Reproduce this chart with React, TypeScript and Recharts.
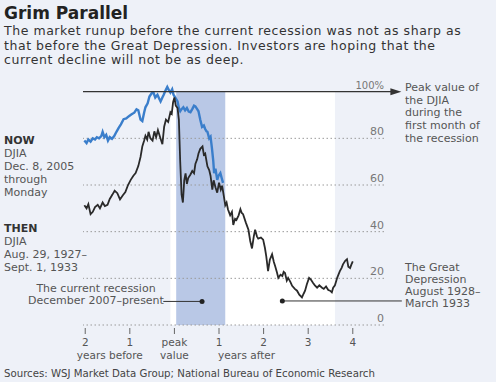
import {
  ComposedChart,
  Line,
  XAxis,
  YAxis,
  ReferenceArea,
  ReferenceLine,
  ReferenceDot,
} from 'recharts';

// years relative to the peak month, and % of that peak
const nowYears = [
  -2.02, -1.97, -1.93, -1.88, -1.83, -1.78, -1.74, -1.69, -1.64, -1.61, -1.57, -1.53, -1.49,
  -1.45, -1.4, -1.35, -1.3, -1.25, -1.2, -1.14, -1.08, -1.02, -0.96, -0.9, -0.85, -0.81, -0.76,
  -0.72, -0.68, -0.65, -0.6, -0.56, -0.51, -0.47, -0.43, -0.38, -0.34, -0.31, -0.27, -0.24, -0.2,
  -0.16, -0.12, -0.09, -0.05, -0.02, 0.02, 0.07, 0.1, 0.13, 0.16, 0.2, 0.24, 0.28, 0.32, 0.36,
  0.4, 0.44, 0.47, 0.51, 0.54, 0.58, 0.62, 0.66, 0.69, 0.72, 0.74, 0.78, 0.81, 0.84, 0.87, 0.89,
  0.92, 0.96, 0.99, 1.03, 1.06, 1.09,
];
const nowValues = [
  79.1, 78.0, 79.5, 78.6, 80.0, 79.5, 80.5, 80.0, 81.0, 82.8, 80.5, 81.5, 79.0, 80.5, 79.8, 81.0,
  82.8, 84.5, 86.0, 88.2, 88.5, 89.5, 90.3, 91.0, 92.4, 92.0, 88.0, 87.4, 91.0, 93.3, 95.0, 97.9,
  99.3, 99.6, 97.5, 98.7, 97.0, 95.8, 97.5, 98.7, 100.5, 102.0, 100.5, 99.6, 101.0, 98.7, 97.5,
  95.8, 93.0, 91.6, 92.5, 93.3, 92.0, 93.0, 91.5, 91.2, 92.5, 94.0, 93.7, 92.5, 91.6, 88.0, 84.9,
  85.5, 84.0, 83.0, 82.8, 80.0, 80.7, 76.0, 70.6, 65.1, 67.0, 62.2, 64.0, 65.1, 63.0, 60.9,
];

const thenYears = [
  -2.02, -1.97, -1.93, -1.88, -1.83, -1.78, -1.72, -1.67, -1.61, -1.56, -1.5, -1.45, -1.39, -1.34,
  -1.28, -1.22, -1.16, -1.1, -1.04, -0.98, -0.92, -0.87, -0.81, -0.76, -0.72, -0.68, -0.65, -0.61,
  -0.58, -0.54, -0.49, -0.45, -0.41, -0.37, -0.31, -0.27, -0.23, -0.19, -0.14, -0.09, -0.06, -0.03,
  0.0, 0.03, 0.07, 0.1, 0.13, 0.16, 0.19, 0.22, 0.25, 0.28, 0.31, 0.36, 0.4, 0.44, 0.47, 0.51, 0.54,
  0.58, 0.63, 0.66, 0.69, 0.74, 0.78, 0.81, 0.85, 0.88, 0.92, 0.96, 1.0, 1.04, 1.07, 1.11, 1.14,
  1.17, 1.2, 1.25, 1.29, 1.32, 1.36, 1.39, 1.44, 1.48, 1.51, 1.54, 1.6, 1.66, 1.7, 1.74, 1.78,
  1.81, 1.85, 1.88, 1.94, 1.99, 2.03, 2.06, 2.1, 2.14, 2.19, 2.23, 2.26, 2.3, 2.33, 2.38, 2.42,
  2.45, 2.48, 2.52, 2.55, 2.6, 2.64, 2.7, 2.75, 2.8, 2.86, 2.9, 2.93, 2.97, 3.02, 3.06, 3.11, 3.15,
  3.2, 3.25, 3.31, 3.35, 3.4, 3.45, 3.49, 3.53, 3.56, 3.6, 3.65, 3.71, 3.75, 3.78, 3.83, 3.87, 3.9,
  3.94, 3.97, 4.0,
];
const thenValues = [
  51.3, 50.0, 51.8, 47.5, 48.5, 50.5, 51.5, 50.0, 52.5, 51.0, 51.5, 54.0, 55.9, 57.6, 56.5, 53.8,
  55.5, 57.0, 60.0, 62.2, 64.0, 65.1, 68.1, 72.0, 76.5, 79.0, 81.1, 79.5, 82.8, 80.0, 79.0, 83.0,
  80.5, 83.5, 79.8, 77.5, 85.0, 88.0, 87.0, 91.2, 90.5, 95.5, 97.5, 94.0, 93.0, 88.0, 70.0, 56.0,
  52.5, 62.0, 65.0, 60.5, 63.0, 64.5, 66.0, 65.0, 69.0, 71.0, 73.5, 75.5, 76.5, 73.0, 73.5, 68.0,
  66.4, 64.0, 58.0, 62.0, 59.0, 56.7, 61.0, 58.0, 59.7, 55.0, 51.3, 52.5, 49.6, 47.0, 48.5, 42.9,
  45.5, 45.0, 47.0, 49.6, 48.0, 47.5, 44.0, 40.8, 36.0, 32.8, 38.0, 40.8, 38.0, 37.0, 37.5, 36.6,
  33.0, 29.4, 23.1, 28.0, 30.3, 27.0, 25.2, 22.5, 20.2, 21.5, 21.0, 22.8, 22.3, 19.0, 20.2, 18.5,
  16.8, 15.5, 14.7, 13.0, 11.8, 13.5, 14.7, 17.5, 20.2, 19.5, 18.0, 17.0, 16.0, 17.0, 16.0, 15.5,
  16.5, 15.0, 14.7, 14.0, 16.0, 17.0, 20.2, 23.1, 24.5, 26.0, 27.5, 28.2, 25.0, 24.4, 26.0, 27.3,
];

const xTicks = [-2, -1, 0, 1, 2, 3, 4];
const xTickLabels = ['2', '1', 'peak', '1', '2', '3', '4'];
const yTicks = [0, 20, 40, 60, 80, 100];
const yTickLabels = ['0', '20', '40', '60', '80', '100%'];

// shaded periods, in years from the peak
const depression = [-0.09, 3.6];
const recession = [0.04, 1.14];

const nowData = nowYears.map((t, i) => ({ t, v: nowValues[i] }));
const thenData = thenYears.map((t, i) => ({ t, v: thenValues[i] }));

const FONT = '"DejaVu Sans", Verdana, sans-serif';
const BG = '#eef1f8';

const XTick = (props: any) => {
  const { x, y, index } = props;
  const v = xTicks[index];
  return (
    <g fontFamily={FONT} fontSize={10.5} fill="#555">
      <line x1={x} x2={x} y1={y + 3} y2={y + 9} stroke="#666" strokeWidth={1} />
      <text x={x} y={y + 21} textAnchor="middle">
        {xTickLabels[index]}
      </text>
      {v === 0 && (
        <text x={x} y={y + 33.5} textAnchor="middle">
          value
        </text>
      )}
      {v === -1 && (
        <text x={x - 20} y={y + 33.5} textAnchor="middle">
          years before
        </text>
      )}
      {v === 1 && (
        <text x={x - 1} y={y + 33.5} textAnchor="start">
          years after
        </text>
      )}
    </g>
  );
};

const YTick = (props: any) => {
  const { x, y, index } = props;
  return (
    <text
      x={x}
      y={y - 3}
      textAnchor="end"
      fontFamily={FONT}
      fontSize={index === 5 ? 10 : 11}
      fill="#777"
    >
      {yTickLabels[index]}
    </text>
  );
};

const ArrowLine = (props: any) => {
  const { x1, y1, x2, y2 } = props;
  return (
    <g>
      <line x1={x1} y1={y1} x2={x2 - 8} y2={y2} stroke="#333" strokeWidth={1.2} />
      <polygon
        points={`${x2},${y2} ${x2 - 11},${y2 - 3.5} ${x2 - 11},${y2 + 3.5}`}
        fill="#333"
      />
    </g>
  );
};

const txt = (extra: React.CSSProperties): React.CSSProperties => ({
  position: 'absolute',
  fontFamily: FONT,
  margin: 0,
  whiteSpace: 'nowrap',
  ...extra,
});

export default function App() {
  return (
    <div
      style={{
        position: 'absolute',
        left: 0,
        top: 0,
        width: 496,
        height: 382,
        background: BG,
        overflow: 'hidden',
      }}
    >
      <ComposedChart
        width={496}
        height={382}
        margin={{ top: 87, right: 111, bottom: 7, left: 83 }}
      >
        <XAxis
          dataKey="t"
          type="number"
          domain={[-2.05, 4.7]}
          ticks={xTicks}
          allowDataOverflow
          axisLine={false}
          tickLine={false}
          tickSize={0}
          tickMargin={0}
          height={50}
          tick={<XTick />}
          interval={0}
        />
        <YAxis
          type="number"
          orientation="right"
          domain={[0, 100]}
          ticks={yTicks}
          axisLine={false}
          tickLine={false}
          tickSize={0}
          tickMargin={0}
          width={1}
          tick={<YTick />}
          interval={0}
        />
        <ReferenceArea
          x1={depression[0]}
          x2={depression[1]}
          y1={0}
          y2={100}
          fill="#ffffff"
          fillOpacity={1}
          stroke="none"
        />
        <ReferenceArea
          x1={recession[0]}
          x2={recession[1]}
          y1={0}
          y2={100}
          fill="#b9c8e6"
          fillOpacity={1}
          stroke="none"
        />
        {yTicks.slice(0, 5).map((v) => (
          <ReferenceLine
            key={v}
            y={v}
            stroke="#9a9a9a"
            strokeWidth={1}
            strokeDasharray="1.5 2.5"
          />
        ))}
        <Line
          data={nowData}
          dataKey="v"
          type="linear"
          stroke="#3a7ecb"
          strokeWidth={2.4}
          dot={false}
          isAnimationActive={false}
        />
        <Line
          data={thenData}
          dataKey="v"
          type="linear"
          stroke="#2a2a2a"
          strokeWidth={1.8}
          dot={false}
          isAnimationActive={false}
        />
        <ReferenceLine
          segment={[
            { x: -2.05, y: 100 },
            { x: 5.09, y: 100 },
          ]}
          ifOverflow="visible"
          shape={<ArrowLine />}
        />
        <ReferenceLine
          segment={[
            { x: -0.25, y: 10.1 },
            { x: 0.62, y: 10.1 },
          ]}
          ifOverflow="visible"
          stroke="#333"
          strokeWidth={1}
        />
        <ReferenceDot x={0.62} y={10.1} r={2.5} fill="#222" stroke="none" ifOverflow="visible" />
        <ReferenceLine
          segment={[
            { x: 2.42, y: 10.3 },
            { x: 5.1, y: 10.3 },
          ]}
          ifOverflow="visible"
          stroke="#333"
          strokeWidth={1}
        />
        <ReferenceDot x={2.42} y={10.3} r={2.5} fill="#222" stroke="none" ifOverflow="visible" />
      </ComposedChart>

      <div style={txt({ left: 4, top: 3, fontSize: 17, lineHeight: '20px', fontWeight: 700, color: '#222' })}>
        Grim Parallel
      </div>
      <div
        style={txt({
          left: 4,
          top: 24,
          fontSize: 12.5,
          lineHeight: '14.6px',
          letterSpacing: '0.55px',
          color: '#333',
        })}
      >
        The market runup before the current recession was not as sharp as
        <br />
        that before the Great Depression. Investors are hoping that the
        <br />
        current decline will not be as deep.
      </div>

      <div style={txt({ left: 4, top: 134, fontSize: 11, lineHeight: '13px', color: '#555' })}>
        <b style={{ color: '#333' }}>NOW</b>
        <br />
        DJIA
        <br />
        Dec. 8, 2005
        <br />
        through
        <br />
        Monday
      </div>
      <div style={txt({ left: 4, top: 222, fontSize: 11, lineHeight: '13px', color: '#555' })}>
        <b style={{ color: '#333' }}>THEN</b>
        <br />
        DJIA
        <br />
        Aug. 29, 1927–
        <br />
        Sept. 1, 1933
      </div>
      <div
        style={txt({
          left: 16,
          width: 160,
          top: 283,
          fontSize: 11,
          lineHeight: '12.4px',
          color: '#555',
          textAlign: 'center',
        })}
      >
        The current recession
        <br />
        December 2007–present
      </div>

      <div style={txt({ left: 405, top: 82, fontSize: 11, lineHeight: '12.7px', color: '#555' })}>
        Peak value of
        <br />
        the DJIA
        <br />
        during the
        <br />
        first month of
        <br />
        the recession
      </div>
      <div style={txt({ left: 405, top: 262, fontSize: 11, lineHeight: '12px', color: '#555' })}>
        The Great
        <br />
        Depression
        <br />
        August 1928–
        <br />
        March 1933
      </div>

      <div style={txt({ left: 4, top: 368, fontSize: 10.2, lineHeight: '12px', color: '#444' })}>
        Sources: WSJ Market Data Group; National Bureau of Economic Research
      </div>
    </div>
  );
}
